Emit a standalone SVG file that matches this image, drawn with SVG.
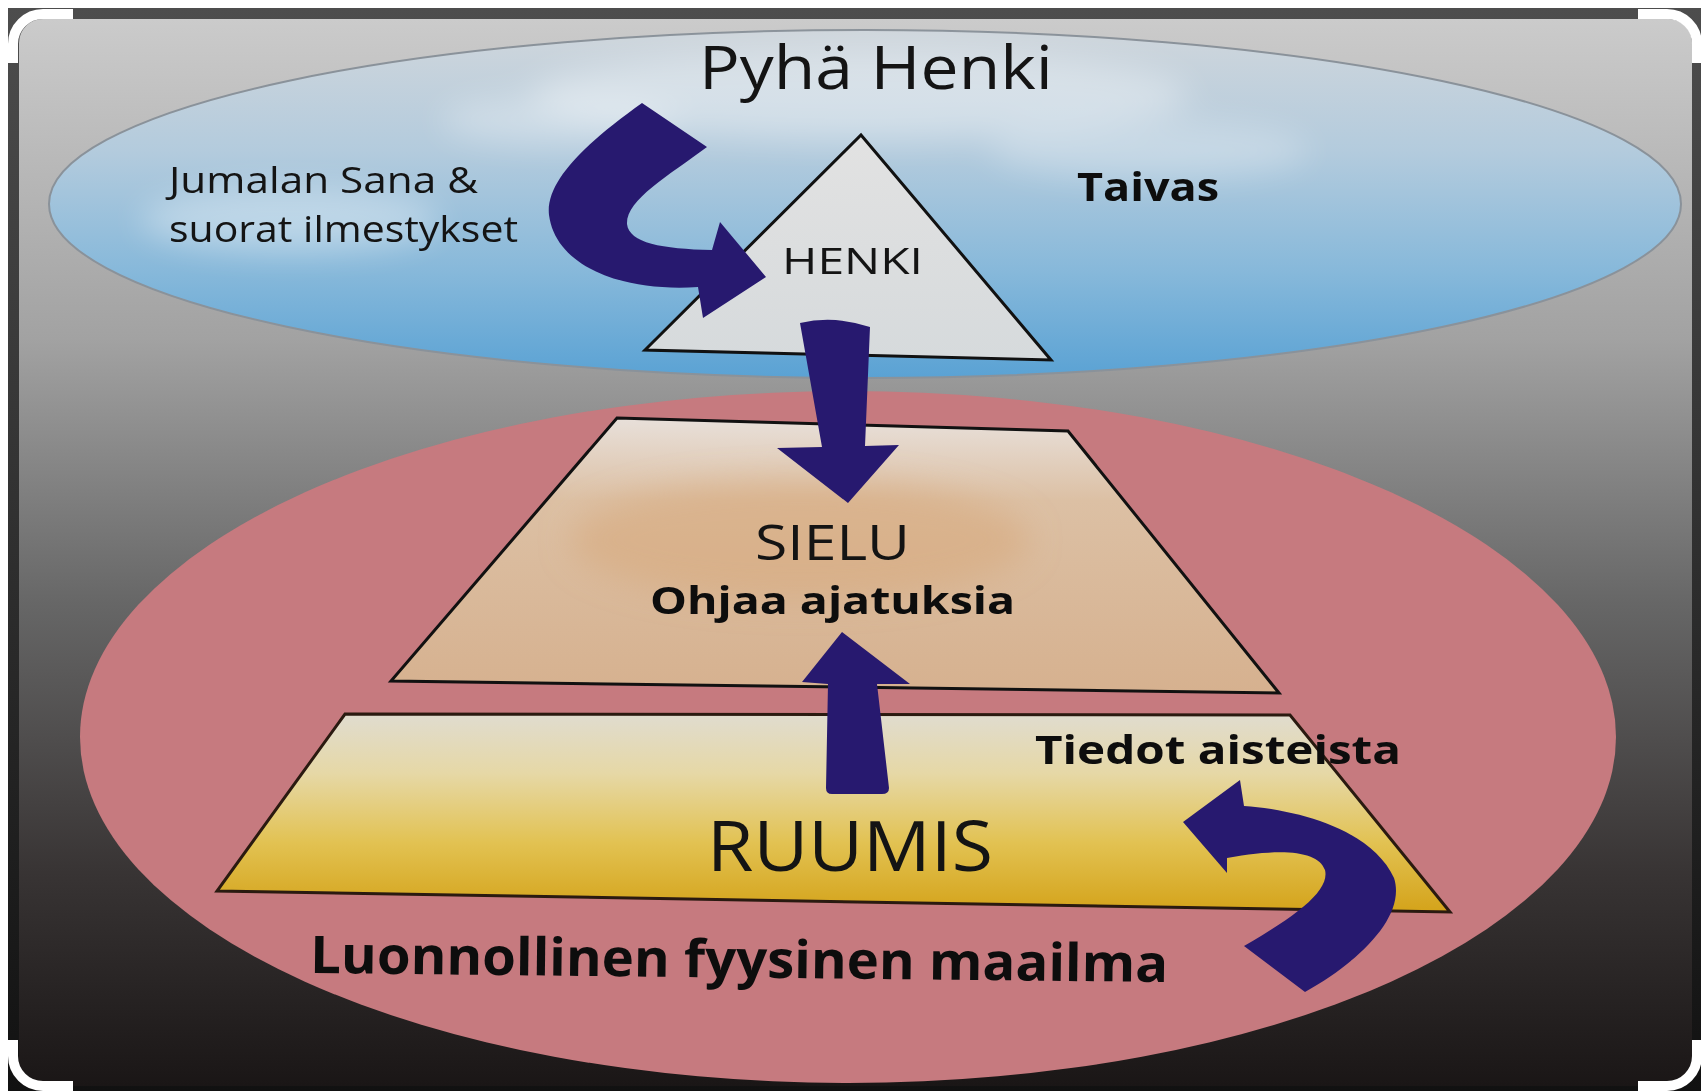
<svg xmlns="http://www.w3.org/2000/svg" width="1703" height="1091" viewBox="0 0 1703 1091">
<defs>
  <linearGradient id="bg" x1="0" y1="0" x2="0" y2="1">
    <stop offset="0" stop-color="#cbcbcb"/>
    <stop offset="0.3" stop-color="#a2a2a2"/>
    <stop offset="0.55" stop-color="#666666"/>
    <stop offset="0.8" stop-color="#383434"/>
    <stop offset="1" stop-color="#1a1616"/>
  </linearGradient>
  <linearGradient id="frame" x1="0" y1="0" x2="0" y2="1">
    <stop offset="0" stop-color="#4d4d4d"/>
    <stop offset="1" stop-color="#111111"/>
  </linearGradient>
  <linearGradient id="sky" x1="0" y1="0" x2="0" y2="1">
    <stop offset="0" stop-color="#cfd6dc"/>
    <stop offset="0.35" stop-color="#b3cbdd"/>
    <stop offset="0.7" stop-color="#86b8da"/>
    <stop offset="1" stop-color="#5aa2d4"/>
  </linearGradient>
  <linearGradient id="spirit" x1="0" y1="0" x2="0" y2="1">
    <stop offset="0" stop-color="#e2e2e2"/>
    <stop offset="1" stop-color="#d6dadc"/>
  </linearGradient>
  <linearGradient id="soul" x1="0" y1="0" x2="0" y2="1">
    <stop offset="0" stop-color="#e8e0da"/>
    <stop offset="0.3" stop-color="#dcc0a4"/>
    <stop offset="1" stop-color="#d6b18f"/>
  </linearGradient>
  <linearGradient id="body" x1="0" y1="0" x2="0" y2="1">
    <stop offset="0" stop-color="#e0dccf"/>
    <stop offset="0.3" stop-color="#e6d8a6"/>
    <stop offset="0.65" stop-color="#e2c252"/>
    <stop offset="1" stop-color="#d4a31a"/>
  </linearGradient>
  <filter id="blur" x="-50%" y="-50%" width="200%" height="200%"><feGaussianBlur stdDeviation="16"/></filter>
  <clipPath id="skyclip"><ellipse cx="865" cy="204" rx="816" ry="174"/></clipPath>
  <clipPath id="soulclip"><polygon points="617,418 1068,431 1279,693 391,681"/></clipPath>
  <style>
    .arrow { fill: #27196f; }
    .outline { stroke: #111111; stroke-width: 3; stroke-linejoin: miter; }
    .reg { font-family: "Open Sans", "Noto Sans", "Liberation Sans", sans-serif; fill: #141414; }
    .bold { font-family: "Open Sans", "Noto Sans", "Liberation Sans", sans-serif; font-weight: bold; fill: #0d0d0d; }
    .corner { fill: none; stroke: #ffffff; stroke-width: 10; }
  </style>
</defs>

<rect width="1703" height="1091" fill="#ffffff"/>
<rect x="8" y="8" width="1693" height="1083" fill="url(#frame)"/>
<rect x="19" y="19" width="1673" height="1067" rx="24" fill="url(#bg)"/>
<path class="corner" d="M13,63 L13,44 A30,30 0 0 1 43,14 L73,14"/>
<path class="corner" d="M1638,14 L1667,14 A30,30 0 0 1 1697,44 L1697,63"/>
<path class="corner" d="M13,1040 L13,1056 A30,30 0 0 0 43,1086 L73,1086"/>
<path class="corner" d="M1638,1086 L1667,1086 A30,30 0 0 0 1697,1056 L1697,1040"/>

<g id="taivas">
  <ellipse cx="865" cy="204" rx="816" ry="174" fill="url(#sky)" stroke="#8a929a" stroke-width="2"/>
  <g clip-path="url(#skyclip)" filter="url(#blur)" fill="#ffffff">
    <ellipse cx="860" cy="95" rx="330" ry="45" opacity="0.35"/>
    <ellipse cx="290" cy="220" rx="150" ry="32" opacity="0.35"/>
    <ellipse cx="560" cy="120" rx="120" ry="25" opacity="0.3"/>
    <ellipse cx="1150" cy="150" rx="160" ry="30" opacity="0.25"/>
  </g>
</g>

<g id="maailma">
  <ellipse cx="848" cy="737" rx="768" ry="346" fill="#c67a7f"/>
</g>

<g id="henki">
  <polygon class="outline" points="861,135 1051,360 645,350" fill="url(#spirit)"/>
  <text class="reg" x="782" y="274" font-size="37" textLength="141" lengthAdjust="spacingAndGlyphs">HENKI</text>
</g>

<g id="sielu">
  <polygon points="617,418 1068,431 1279,693 391,681" fill="url(#soul)"/>
  <g clip-path="url(#soulclip)" filter="url(#blur)">
    <ellipse cx="800" cy="540" rx="230" ry="60" fill="#d6a374" opacity="0.45"/>
  </g>
  <polygon class="outline" points="617,418 1068,431 1279,693 391,681" fill="none"/>
  <text class="reg" x="755" y="560" font-size="50" textLength="155" lengthAdjust="spacingAndGlyphs">SIELU</text>
  <text class="bold" x="650" y="614" font-size="37" textLength="365" lengthAdjust="spacingAndGlyphs">Ohjaa ajatuksia</text>
</g>

<g id="ruumis">
  <polygon points="345,714 1290,715 1450,912 217,891" fill="url(#body)" stroke="#2a1a10" stroke-width="3"/>
  <text class="reg" x="707" y="871" font-size="70" textLength="286" lengthAdjust="spacingAndGlyphs">RUUMIS</text>
</g>

<g id="connectors">
  <path class="arrow" d="M642,103 L707,147 C668,176 626,200 627,224 C629,243 662,249 712,250 L720,222 L766,277 L703,318 L698,287 C625,292 556,268 549,215 C545,180 590,140 642,103 Z"/>
  <path class="arrow" d="M800,323 Q834,315 870,327 L865,446 L899,445 L848,503 L777,448 L822,447 Z"/>
  <path class="arrow" d="M842,632 L910,684 L877,684 L889,788 Q889,794 882,794 L832,794 Q826,794 826,788 L828,684 L802,682 Z"/>
  <path class="arrow" d="M1183,822 L1240,780 L1244,806 C1300,810 1372,830 1394,878 C1406,915 1362,960 1305,992 L1244,946 C1298,915 1330,890 1325,870 C1318,850 1280,848 1227,858 L1227,873 Z"/>
</g>

<g id="labels">
  <text class="reg" x="699" y="89" font-size="60" textLength="354" lengthAdjust="spacingAndGlyphs">Pyhä Henki</text>
  <text class="reg" x="169" y="193" font-size="37" textLength="309" lengthAdjust="spacingAndGlyphs">Jumalan Sana &amp;</text>
  <text class="reg" x="169" y="242" font-size="37" textLength="349" lengthAdjust="spacingAndGlyphs">suorat ilmestykset</text>
  <text class="bold" x="1077" y="201" font-size="39" textLength="142" lengthAdjust="spacingAndGlyphs">Taivas</text>
  <text class="bold" x="1035" y="764" font-size="39" textLength="366" lengthAdjust="spacingAndGlyphs">Tiedot aisteista</text>
  <text class="bold" x="310" y="973" font-size="52" textLength="858" lengthAdjust="spacingAndGlyphs" transform="rotate(0.6 310 973)">Luonnollinen fyysinen maailma</text>
</g>
</svg>
